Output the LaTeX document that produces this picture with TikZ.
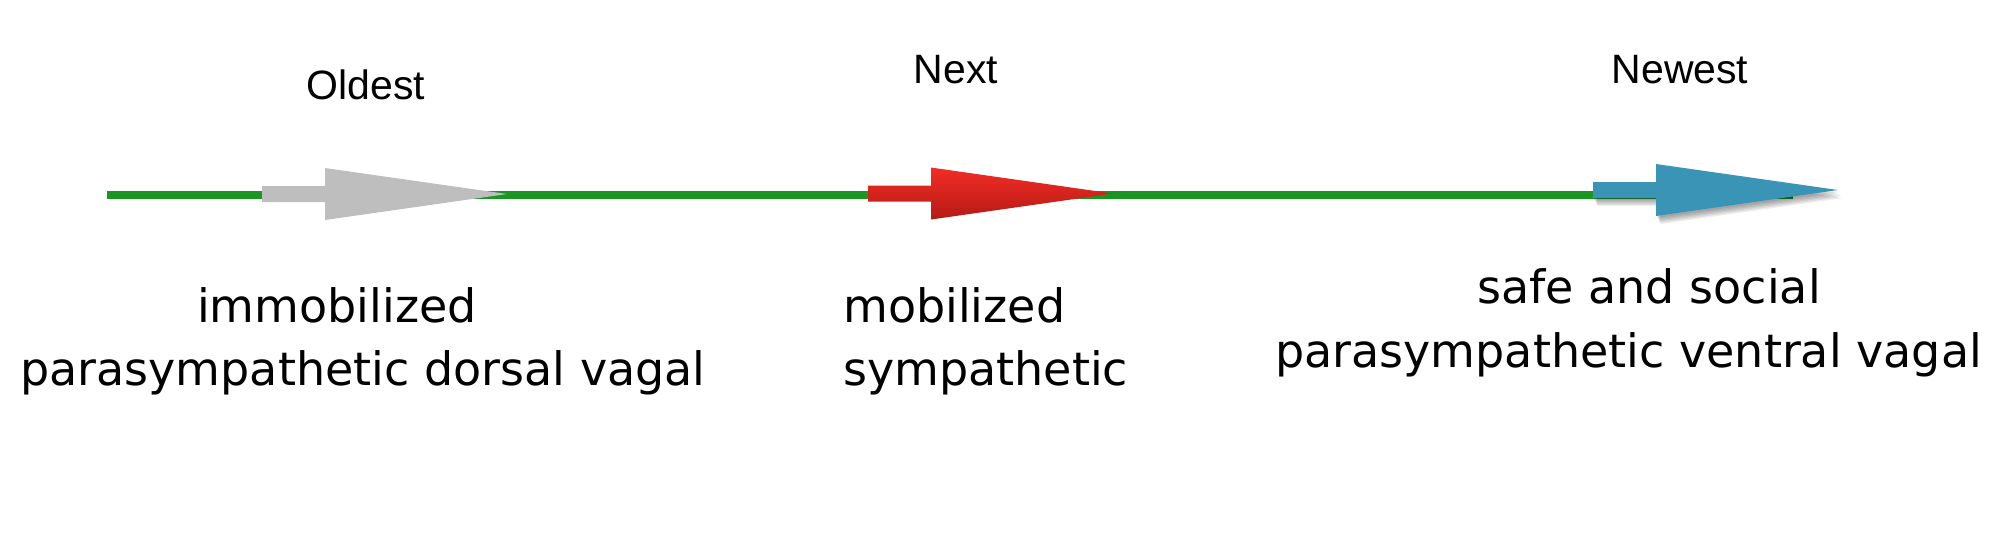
\documentclass[tikz,border=0pt]{standalone}
\usepackage{fontspec}
\setmainfont{Liberation Sans}
\newfontfamily\handfont{DejaVu Sans}
\definecolor{linegreen}{HTML}{1A9622}
\definecolor{oldgray}{HTML}{BEBEBE}
\definecolor{nextredtop}{HTML}{F22D25}
\definecolor{nextredbot}{HTML}{B51A15}
\definecolor{newblue}{HTML}{3A94B6}
\begin{document}
\begin{tikzpicture}[x=1pt, y=-1pt, line join=round]
	\tikzset{era/.style={font=\fontsize{41}{45}\selectfont, inner sep=0pt, anchor=base},
		hand/.style={font=\handfont\fontsize{46}{50}\selectfont, inner sep=0pt, anchor=base west},
		bigarrow/.pic={\path[pic actions] (0,-8)--(63,-8)--(63,-26)--(245,0)--(63,26)--(63,8)--(0,8)--cycle;}}
	\useasboundingbox (0,0) rectangle (1992,552);
	\coordinate (start) at (107,195);
	\coordinate (end) at (1793,195);
	\draw[linegreen, line width=8pt] (start)--(end);
	\pic[fill=oldgray] at (262,194) {bigarrow};
	\pic[top color=nextredtop, bottom color=nextredbot] at (868,193.5) {bigarrow};
	\foreach \d in {3,5,...,13}
		\pic[fill=black, fill opacity=0.07] at (1593+\d/3,190+\d/1.6) {bigarrow};
	\pic[fill=newblue] at (1593,190) {bigarrow};
	\node[era] (oldest) at (366,99) {Oldest};
	\node[era] (next) at (956,83) {Next};
	\node[era] (newest) at (1680,83) {Newest};
	\node[hand] (immob) at (197,322) {immobilized};
	\node[hand] (dorsal) at (20,385) {parasympathetic dorsal vagal};
	\node[hand] (mob) at (843,322) {mobilized};
	\node[hand] (symp) at (843,385) {sympathetic};
	\node[hand] (safe) at (1477,303) {safe and social};
	\node[hand] (ventral) at (1275,367) {parasympathetic ventral vagal};
\end{tikzpicture}
\end{document}
